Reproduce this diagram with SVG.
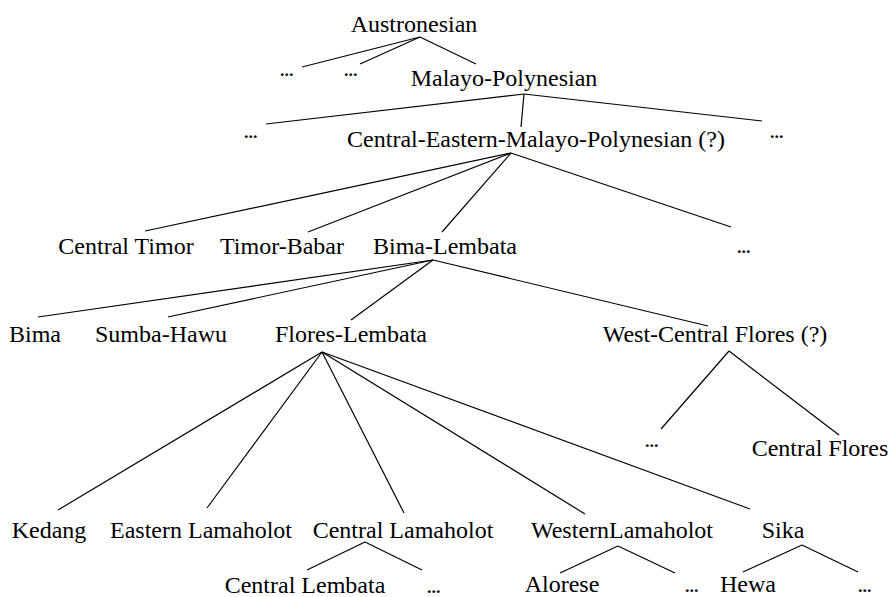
<svg xmlns="http://www.w3.org/2000/svg" width="888" height="597" viewBox="0 0 888 597">
<style>
text{font-family:"Liberation Serif","Times New Roman",serif;font-size:24px;fill:#000;text-anchor:middle}
.d{letter-spacing:-1.5px}
line{stroke:#000;stroke-width:1.2}
</style>
<rect width="888" height="597" fill="#fff"/>
<g id="connectors">
<line x1="420" y1="37" x2="302" y2="67"/>
<line x1="420" y1="37" x2="360" y2="64"/>
<line x1="420" y1="37" x2="476" y2="64"/>
<line x1="524" y1="94" x2="266" y2="124"/>
<line x1="524" y1="94" x2="521" y2="127"/>
<line x1="524" y1="94" x2="762" y2="121"/>
<line x1="511" y1="153" x2="145" y2="231"/>
<line x1="511" y1="153" x2="308" y2="232"/>
<line x1="511" y1="153" x2="442" y2="232"/>
<line x1="511" y1="153" x2="731" y2="227"/>
<line x1="433" y1="260" x2="38" y2="317"/>
<line x1="433" y1="260" x2="168" y2="317"/>
<line x1="433" y1="260" x2="351" y2="320"/>
<line x1="433" y1="260" x2="708" y2="326"/>
<line x1="729" y1="351" x2="661" y2="429"/>
<line x1="729" y1="351" x2="839" y2="435"/>
<line x1="322" y1="352" x2="58" y2="510"/>
<line x1="322" y1="352" x2="207" y2="508"/>
<line x1="322" y1="352" x2="404" y2="513"/>
<line x1="322" y1="352" x2="585" y2="514"/>
<line x1="322" y1="352" x2="750" y2="509"/>
<line x1="365" y1="542" x2="307" y2="570"/>
<line x1="365" y1="542" x2="422" y2="570"/>
<line x1="618" y1="546" x2="560" y2="573"/>
<line x1="618" y1="546" x2="675" y2="573"/>
<line x1="802" y1="545" x2="743" y2="572"/>
<line x1="802" y1="545" x2="858" y2="572"/>
</g>
<g id="austronesian"><text x="414" y="32">Austronesian</text></g>
<g id="etc1"><text class="d" x="286" y="76">...</text></g>
<g id="etc2"><text class="d" x="350" y="76">...</text></g>
<g id="malayo-polynesian"><text x="504" y="86">Malayo-Polynesian</text></g>
<g id="etc3"><text class="d" x="250" y="138">...</text></g>
<g id="cemp"><text x="536" y="147">Central-Eastern-Malayo-Polynesian (?)</text></g>
<g id="etc4"><text class="d" x="776" y="138">...</text></g>
<g id="central-timor"><text x="126" y="254">Central Timor</text></g>
<g id="timor-babar"><text x="282" y="254">Timor-Babar</text></g>
<g id="bima-lembata"><text x="445" y="254">Bima-Lembata</text></g>
<g id="etc5"><text class="d" x="743" y="253">...</text></g>
<g id="bima"><text x="35" y="342">Bima</text></g>
<g id="sumba-hawu"><text x="161" y="342">Sumba-Hawu</text></g>
<g id="flores-lembata"><text x="351" y="342">Flores-Lembata</text></g>
<g id="west-central-flores"><text x="715" y="342">West-Central Flores (?)</text></g>
<g id="etc6"><text class="d" x="651" y="447">...</text></g>
<g id="central-flores"><text x="820" y="456">Central Flores</text></g>
<g id="kedang"><text x="49" y="538">Kedang</text></g>
<g id="eastern-lamaholot"><text x="201" y="538">Eastern Lamaholot</text></g>
<g id="central-lamaholot"><text x="403" y="538">Central Lamaholot</text></g>
<g id="western-lamaholot"><text x="622" y="538">WesternLamaholot</text></g>
<g id="sika"><text x="783" y="538">Sika</text></g>
<g id="central-lembata"><text x="305" y="593">Central Lembata</text></g>
<g id="etc7"><text class="d" x="433" y="593">...</text></g>
<g id="alorese"><text x="562" y="592">Alorese</text></g>
<g id="etc8"><text class="d" x="691" y="592">...</text></g>
<g id="hewa"><text x="748" y="592">Hewa</text></g>
<g id="etc9"><text class="d" x="864" y="592">...</text></g>
</svg>
